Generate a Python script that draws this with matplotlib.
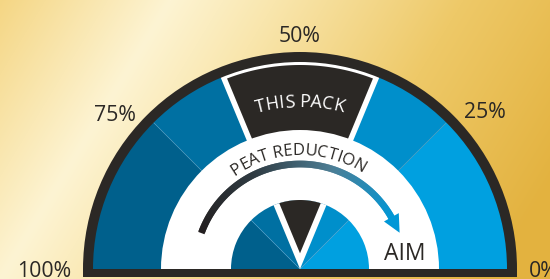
import numpy as np
import matplotlib
matplotlib.use('Agg')
import matplotlib.pyplot as plt
from matplotlib.patches import Wedge, Rectangle, Polygon
from matplotlib.collections import LineCollection
from matplotlib.colors import LinearSegmentedColormap, to_rgb
from matplotlib.font_manager import FontProperties

# ---------------- data ----------------
tick_labels = ['100%', '75%', '50%', '25%', '0%']
tick_values = [100, 75, 50, 25, 0]
segment_bounds = [0, 25, 50, 75, 100]
segment_colors = ['#00a0e0', '#008fcb', '#0070a2', '#00608c']
this_pack_value = 50
this_pack_halfwidth = 12.5
arc_title = 'PEAT REDUCTION'
this_pack_label = 'THIS PACK'
aim_label = 'AIM'

# ---------------- style ----------------
FAMILY = ['Open Sans', 'DejaVu Sans']
DARK = '#2b2825'
W, H = 550, 279
C = (300.0, 10.0)
R_OUT, R_BLUE, R_WHITE, R_INNER = 217, 207, 139, 69

fig = plt.figure(figsize=(W / 100, H / 100), dpi=100)
ax = fig.add_axes([0, 0, 1, 1])
ax.set_xlim(0, W)
ax.set_ylim(0, H)
ax.axis('off')


def p2d(p):
    return p / 100.0 * 180.0


# background gradient
yy, xx = np.mgrid[0:H, 0:W]
u = (279 * xx + 170 * yy - 47430) / 326.7
stops_u = [-160, 0, 90, 250, 420]
stops_c = [to_rgb(c) for c in ['#f4d37c', '#fdf4d3', '#f9e6ad', '#eec968', '#e3b23f']]
img = np.zeros((H, W, 3))
for k in range(3):
    img[..., k] = np.interp(u, stops_u, [c[k] for c in stops_c])
ax.imshow(img, extent=(0, W, 0, H), origin='upper', aspect='auto', zorder=0)

# outer coloured segments
for a, b, col in zip(segment_bounds[:-1], segment_bounds[1:], segment_colors):
    ax.add_patch(Wedge(C, R_BLUE + 1, p2d(a), p2d(b), facecolor=col, edgecolor='none', zorder=2))


def sep_line(deg, r0, r1, z):
    t = np.radians(deg)
    ax.plot([C[0] + r0 * np.cos(t), C[0] + r1 * np.cos(t)],
            [C[1] + r0 * np.sin(t), C[1] + r1 * np.sin(t)],
            color='#4a9ccb', lw=0.5, alpha=0.8, zorder=z, solid_capstyle='butt')


for v in segment_bounds[1:-1]:
    if v != 50:
        sep_line(p2d(v), R_WHITE, R_BLUE, 2.5)


def inset_sector(r_in, r_out, t1, t2, d, n=80, **kw):
    half = np.radians((t2 - t1) / 2)
    r_apex = d / np.sin(half)

    def lims(r):
        a = np.degrees(np.arcsin(min(d / r, 1.0)))
        return t1 + a, t2 - a

    lo, hi = lims(r_out)
    pts = [(r_out, t) for t in np.linspace(lo, hi, n)]
    if r_apex >= r_in:
        pts.append((r_apex, (t1 + t2) / 2))
    else:
        lo_i, hi_i = lims(r_in)
        pts += [(r_in, t) for t in np.linspace(hi_i, lo_i, n)]
    xy = [(C[0] + r * np.cos(np.radians(t)), C[1] + r * np.sin(np.radians(t))) for r, t in pts]
    return Polygon(xy, closed=True, **kw)


tp1 = p2d(this_pack_value - this_pack_halfwidth)
tp2 = p2d(this_pack_value + this_pack_halfwidth)

# THIS PACK outer sector
ax.add_patch(Wedge(C, R_BLUE + 1, tp1, tp2, facecolor='white', edgecolor='none', zorder=3))
ax.add_patch(inset_sector(R_WHITE - 2, R_BLUE - 3, tp1, tp2, 5.5,
                          facecolor=DARK, edgecolor='none', zorder=4))

# white ring
ax.add_patch(Wedge(C, R_WHITE, 0, 180, facecolor='white', edgecolor='none', zorder=5))

# inner segments
for a, b, col in zip(segment_bounds[:-1], segment_bounds[1:], segment_colors):
    ax.add_patch(Wedge(C, R_INNER, p2d(a), p2d(b), facecolor=col, edgecolor='none', zorder=6))
for v in segment_bounds[1:-1]:
    if v != 50:
        sep_line(p2d(v), 0, R_INNER, 6.5)
ax.add_patch(Wedge(C, R_INNER, tp1, tp2, facecolor='white', edgecolor='none', zorder=7))
ax.add_patch(inset_sector(0, R_INNER, tp1, tp2, 6.0, facecolor=DARK, edgecolor='none', zorder=8))

# black frame
ax.add_patch(Wedge(C, R_OUT, 0, 180, width=R_OUT - R_BLUE, facecolor=DARK, edgecolor='none', zorder=9))
ax.add_patch(Rectangle((C[0] - R_OUT, 2), 2 * R_OUT, 8.3, facecolor=DARK, edgecolor='none', zorder=9))

# gradient arrow
r_arc = 105
th = np.radians(np.linspace(160, 28.5, 240))
px = C[0] + r_arc * np.cos(th)
py = C[1] + r_arc * np.sin(th)
segs = [[(px[i], py[i]), (px[min(i + 2, len(th) - 1)], py[min(i + 2, len(th) - 1)])]
        for i in range(len(th) - 1)]
cmap = LinearSegmentedColormap.from_list('arr', ['#231f20', '#2f3b42', '#4d7e95', '#0097d7'])
lc = LineCollection(segs, colors=cmap(np.linspace(0, 1, len(segs))), linewidths=4.8,
                    capstyle='butt', zorder=10)
ax.add_collection(lc)


def polar(r, deg):
    t = np.radians(deg)
    return (C[0] + r * np.cos(t), C[1] + r * np.sin(t))


ax.add_patch(Polygon([polar(r_arc + 8.5, 29.5), polar(r_arc - 8.5, 29.5), polar(r_arc + 1, 20)],
                     closed=True, facecolor='#0097d7', edgecolor='none', zorder=10))

# curved text
renderer = fig.canvas.get_renderer()


def char_w(ch, prop):
    w1 = renderer.get_text_width_height_descent('|' + ch + '|', prop, ismath=False)[0]
    w0 = renderer.get_text_width_height_descent('||', prop, ismath=False)[0]
    return w1 - w0


def curved_text(s, r, center_deg, size, color, span_deg=None, z=11):
    prop = FontProperties(family=FAMILY, size=size)
    ws = np.array([char_w(ch, prop) for ch in s])
    total = ws.sum()
    scale = 1.0
    if span_deg is not None:
        scale = np.radians(span_deg) * r / total
    ws_s = ws * scale
    start = np.radians(center_deg) + ws_s.sum() / 2 / r
    cum = 0.0
    for ch, w in zip(s, ws_s):
        mid = start - (cum + w / 2) / r
        cum += w
        if ch == ' ':
            continue
        x, y = C[0] + r * np.cos(mid), C[1] + r * np.sin(mid)
        ax.text(x, y, ch, fontproperties=prop, color=color, ha='center', va='baseline',
                rotation=np.degrees(mid) - 90, rotation_mode='anchor', zorder=z)


curved_text(arc_title, 114, 91, 12, DARK, span_deg=68)
curved_text(this_pack_label, 162, 90, 13, 'white')

ax.text(405, 19, aim_label, family=FAMILY, fontsize=16.5, color=DARK, ha='center', va='baseline', zorder=11)

# percentage labels
label_pos = {100: (44, 2, 'center'), 75: (115, 158.3, 'center'), 50: (300, 237.3, 'center'),
             25: (485, 161, 'center'), 0: (529, 2, 'left')}
for lab, v in zip(tick_labels, tick_values):
    x, y, ha = label_pos[v]
    ax.text(x, y, lab, family=FAMILY, fontsize=15.3, color=DARK, ha=ha, va='baseline', zorder=11)

fig.savefig('out.png', dpi=100)
